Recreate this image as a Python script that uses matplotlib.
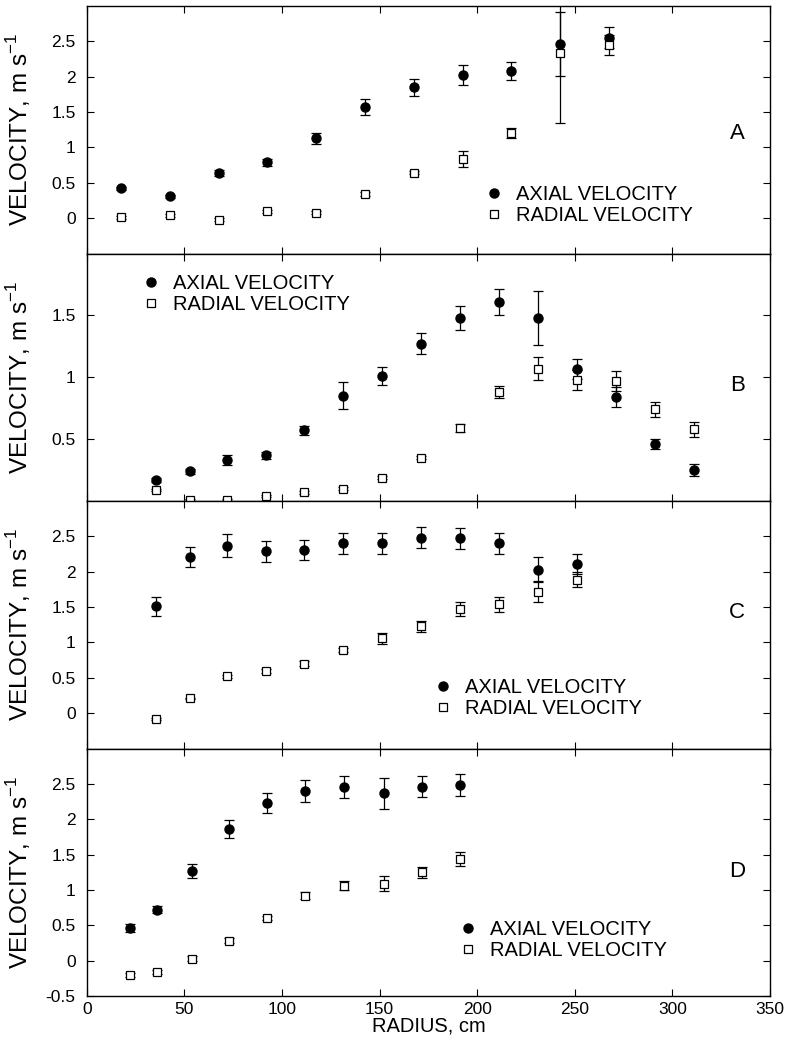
import matplotlib
matplotlib.use("Agg")
import matplotlib.pyplot as plt

plt.rcParams["font.family"] = ["Liberation Sans", "DejaVu Sans"]
plt.rcParams["mathtext.fontset"] = "custom"
plt.rcParams["mathtext.rm"] = "Liberation Sans"

# radius positions, cm
x_a = [17.5, 42.5, 67.5, 92.5, 117.5, 142.5, 167.5, 192.5, 217.5, 242.5, 267.5]
x_b = [35.5, 53, 72, 92, 111.5, 131, 151, 171, 191, 211, 231, 251, 271, 291, 311]
x_c = [35.5, 53, 72, 92, 111.5, 131, 151, 171, 191, 211, 231, 251]
x_d = [22, 36, 54, 73, 92.5, 112, 132, 152, 171.5, 191]

# panel A
axial_a = [0.42, 0.31, 0.64, 0.79, 1.13, 1.57, 1.85, 2.03, 2.08, 2.46, 2.55]
axial_a_err = [0.02, 0.02, 0.04, 0.05, 0.08, 0.11, 0.12, 0.14, 0.13, 0.45, 0.15]
radial_a = [0.01, 0.04, -0.02, 0.10, 0.08, 0.34, 0.64, 0.84, 1.20, 2.33, 2.45]
radial_a_err = [0.02, 0.02, 0.02, 0.02, 0.02, 0.03, 0.02, 0.11, 0.07, 0.98, 0.14]

# panel B
axial_b = [0.17, 0.24, 0.33, 0.37, 0.57, 0.85, 1.01, 1.27, 1.48, 1.61, 1.48, 1.07, 0.84, 0.46, 0.25]
axial_b_err = [0.02, 0.02, 0.04, 0.03, 0.04, 0.11, 0.07, 0.085, 0.095, 0.105, 0.22, 0.08, 0.08, 0.04, 0.05]
radial_b = [0.09, 0.01, 0.01, 0.04, 0.07, 0.10, 0.19, 0.35, 0.59, 0.88, 1.07, 0.98, 0.97, 0.74, 0.58]
radial_b_err = [0.01, 0.01, 0.01, 0.01, 0.01, 0.01, 0.01, 0.01, 0.03, 0.05, 0.09, 0.08, 0.08, 0.06, 0.06]

# panel C
axial_c = [1.51, 2.21, 2.37, 2.29, 2.31, 2.40, 2.40, 2.48, 2.47, 2.40, 2.03, 2.11]
axial_c_err = [0.13, 0.14, 0.165, 0.15, 0.145, 0.15, 0.145, 0.15, 0.155, 0.15, 0.18, 0.14]
radial_c = [-0.08, 0.21, 0.52, 0.60, 0.70, 0.89, 1.06, 1.23, 1.47, 1.54, 1.72, 1.89]
radial_c_err = [0.01, 0.01, 0.02, 0.03, 0.04, 0.03, 0.08, 0.08, 0.10, 0.105, 0.155, 0.11]

# panel D
axial_d = [0.46, 0.72, 1.27, 1.86, 2.23, 2.40, 2.45, 2.37, 2.46, 2.49]
axial_d_err = [0.06, 0.05, 0.095, 0.13, 0.145, 0.15, 0.155, 0.22, 0.15, 0.155]
radial_d = [-0.20, -0.165, 0.03, 0.28, 0.60, 0.92, 1.06, 1.09, 1.25, 1.44]
radial_d_err = [0.03, 0.03, 0.03, 0.035, 0.03, 0.05, 0.06, 0.105, 0.08, 0.10]

yticks_full = [0, 0.5, 1, 1.5, 2, 2.5]
yticks_b = [0.5, 1, 1.5]
yticks_d = [-0.5, 0, 0.5, 1, 1.5, 2, 2.5]
ytick_labels = {-0.5: "-0.5", 0: "0", 0.5: "0.5", 1: "1", 1.5: "1.5", 2: "2", 2.5: "2.5"}
xticks = [0, 50, 100, 150, 200, 250, 300, 350]

panels = [
    ("A", x_a, axial_a, axial_a_err, radial_a, radial_a_err, (-0.5, 3.0), yticks_full,
     (0.581, 0.195), (0.952, 0.484)),
    ("B", x_b, axial_b, axial_b_err, radial_b, radial_b_err, (0.0, 2.0), yticks_b,
     (0.079, 0.836), (0.952, 0.466)),
    ("C", x_c, axial_c, axial_c_err, radial_c, radial_c_err, (-0.5, 3.0), yticks_full,
     (0.507, 0.205), (0.952, 0.549)),
    ("D", x_d, axial_d, axial_d_err, radial_d, radial_d_err, (-0.5, 3.0), yticks_d,
     (0.543, 0.228), (0.952, 0.504)),
]

fig, axes = plt.subplots(4, 1, figsize=(7.89, 10.4), dpi=100, sharex=True)
fig.subplots_adjust(left=0.110, right=0.976, top=0.9942, bottom=0.0423, hspace=0)

for ax, (letter, x, ax_v, ax_e, rad_v, rad_e, ylim, yt, leg_pos, let_pos) in zip(axes, panels):
    ax.errorbar(x, ax_v, yerr=ax_e, fmt="none", ecolor="black", elinewidth=0.9,
                capsize=3.5, capthick=0.9, zorder=2)
    ax.errorbar(x, rad_v, yerr=rad_e, fmt="none", ecolor="black", elinewidth=0.9,
                capsize=3.5, capthick=0.9, zorder=2)
    ax.plot(x, ax_v, "o", color="black", markersize=6.5, linestyle="none",
            label="AXIAL VELOCITY", zorder=3)
    ax.plot(x, rad_v, "s", markerfacecolor="white", markeredgecolor="black",
            markeredgewidth=0.9, markersize=5.5, linestyle="none",
            label="RADIAL VELOCITY", zorder=3)

    ax.set_xlim(0, 350)
    ax.set_ylim(*ylim)
    ax.set_xticks(xticks)
    ax.set_yticks(yt)
    ax.set_yticklabels([ytick_labels[v] for v in yt])
    ax.tick_params(direction="in", top=True, right=True, length=5, width=0.8,
                   labelsize=12.5, pad=8)
    for s in ax.spines.values():
        s.set_linewidth(1.0)

    ax.set_ylabel("VELOCITY, m s$^{-1}$", fontsize=17.5)
    ax.yaxis.set_label_coords(-0.079, 0.5)

    ax.legend(loc="center left", bbox_to_anchor=leg_pos, frameon=False, fontsize=14.5,
              numpoints=1, handlelength=1.0, handletextpad=0.6, labelspacing=0.1,
              borderpad=0, borderaxespad=0)
    ax.text(let_pos[0], let_pos[1], letter, transform=ax.transAxes, fontsize=16,
            ha="center", va="center")

axes[-1].set_xlabel("RADIUS, cm", fontsize=14.5, labelpad=0)
axes[-1].tick_params(axis="x", pad=4)

fig.savefig("out.png", dpi=100)
